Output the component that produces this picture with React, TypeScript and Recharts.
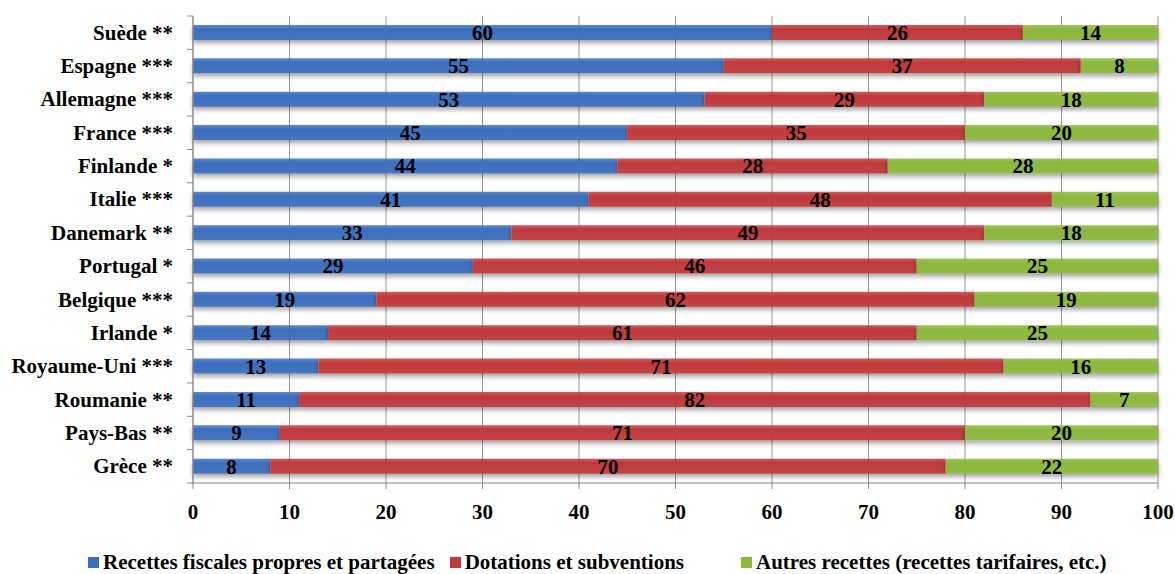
import React from "react";
import {
  BarChart,
  Bar,
  XAxis,
  YAxis,
  CartesianGrid,
  LabelList,
  Legend,
} from "recharts";

const countries = [
  "Suède **",
  "Espagne ***",
  "Allemagne ***",
  "France ***",
  "Finlande *",
  "Italie ***",
  "Danemark **",
  "Portugal *",
  "Belgique ***",
  "Irlande *",
  "Royaume-Uni ***",
  "Roumanie **",
  "Pays-Bas **",
  "Grèce **",
];
const fiscales = [60, 55, 53, 45, 44, 41, 33, 29, 19, 14, 13, 11, 9, 8];
const dotations = [26, 37, 29, 35, 28, 48, 49, 46, 62, 61, 71, 82, 71, 70];
const autres = [14, 8, 18, 20, 28, 11, 18, 25, 19, 25, 16, 7, 20, 22];
const xTicks = [0, 10, 20, 30, 40, 50, 60, 70, 80, 90, 100];

const seriesNames = [
  "Recettes fiscales propres et partagées",
  "Dotations et subventions",
  "Autres recettes (recettes tarifaires, etc.)",
];
const seriesColors = ["#3c6fbe", "#c0393b", "#8cb83c"];
const legendGaps = [0, 15, 57];

const data = countries.map((name, i) => ({
  name,
  fiscales: fiscales[i],
  dotations: dotations[i],
  autres: autres[i],
}));

const FONT = "Liberation Serif";
const FONT_SIZE = 21;

const CountryTick = (props: any) => {
  const { x, y, payload, index } = props;
  const half = payload && payload.offset ? payload.offset : 16.7;
  return (
    <g>
      <text
        x={x}
        y={y}
        dy={7}
        textAnchor="end"
        fill="#000"
        fontFamily={FONT}
        fontWeight={700}
        fontSize={FONT_SIZE}
      >
        {payload.value}
      </text>
      <line x1={x + 14} x2={x + 20} y1={y - half} y2={y - half} stroke="#888" />
      {index === countries.length - 1 && (
        <line x1={x + 14} x2={x + 20} y1={y + half} y2={y + half} stroke="#888" />
      )}
    </g>
  );
};

const LegendContent = () => (
  <div
    style={{
      display: "flex",
      justifyContent: "flex-start",
      paddingLeft: 88,
      paddingTop: 4,
      color: "#000",
      fontFamily: FONT,
      fontWeight: 700,
      fontSize: FONT_SIZE,
      lineHeight: "24px",
    }}
  >
    {seriesNames.map((n, i) => (
      <div
        key={n}
        style={{ display: "flex", alignItems: "center", marginLeft: legendGaps[i] }}
      >
        <span
          style={{
            display: "inline-block",
            width: 11,
            height: 11,
            background: seriesColors[i],
            marginRight: 4,
          }}
        />
        {n}
      </div>
    ))}
  </div>
);

const labelProps = {
  position: "center" as const,
  fill: "#000",
  fontFamily: FONT,
  fontWeight: 700,
  fontSize: FONT_SIZE,
};

export default function App() {
  return (
    <div style={{ position: "absolute", left: 0, top: 0, background: "#fff" }}>
      <BarChart
        width={1175}
        height={574}
        data={data}
        layout="vertical"
        margin={{ top: 16, right: 17, left: 0, bottom: 0 }}
        barSize={15}
      >
        <defs>
          {["blue", "red", "green"].map((k, i) => (
            <linearGradient key={k} id={`grad-${k}`} x1="0" y1="0" x2="0" y2="1">
              <stop offset="0%" stopColor={seriesColors[i]} stopOpacity={0.8} />
              <stop offset="30%" stopColor={seriesColors[i]} />
              <stop offset="100%" stopColor={seriesColors[i]} stopOpacity={0.9} />
            </linearGradient>
          ))}
          <filter id="shadow" x="-5%" y="-50%" width="110%" height="250%">
            <feDropShadow dx="0" dy="3" stdDeviation="2.5" floodColor="#000" floodOpacity="0.4" />
          </filter>
        </defs>
        <CartesianGrid horizontal={false} stroke="#999" />
        <XAxis
          type="number"
          domain={[0, 100]}
          ticks={xTicks}
          interval={0}
          height={63}
          tickSize={6}
          tickMargin={15}
          stroke="#888"
          tick={{ fill: "#000", fontFamily: FONT, fontWeight: 700, fontSize: FONT_SIZE }}
        />
        <YAxis
          type="category"
          dataKey="name"
          width={193}
          tickSize={6}
          tickMargin={14}
          tickLine={false}
          stroke="#888"
          interval={0}
          tick={<CountryTick />}
        />
        <Legend
          verticalAlign="bottom"
          wrapperStyle={{ height: 28 }}
          content={<LegendContent />}
        />
        <Bar
          dataKey="fiscales"
          stackId="a"
          name={seriesNames[0]}
          fill="url(#grad-blue)"
          filter="url(#shadow)"
          isAnimationActive={false}
        >
          <LabelList dataKey="fiscales" {...labelProps} />
        </Bar>
        <Bar
          dataKey="dotations"
          stackId="a"
          name={seriesNames[1]}
          fill="url(#grad-red)"
          filter="url(#shadow)"
          isAnimationActive={false}
        >
          <LabelList dataKey="dotations" {...labelProps} />
        </Bar>
        <Bar
          dataKey="autres"
          stackId="a"
          name={seriesNames[2]}
          fill="url(#grad-green)"
          filter="url(#shadow)"
          isAnimationActive={false}
        >
          <LabelList dataKey="autres" {...labelProps} />
        </Bar>
      </BarChart>
    </div>
  );
}
